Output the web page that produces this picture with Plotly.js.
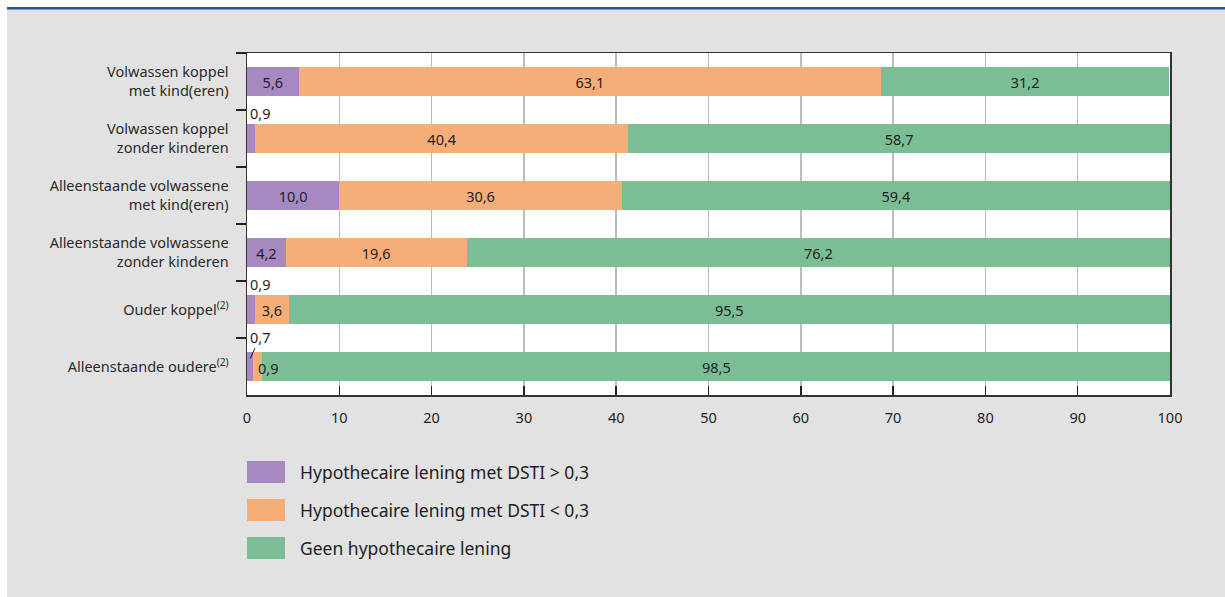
<!DOCTYPE html>
<html>
<head>
<meta charset="utf-8">
<script src="https://cdn.plot.ly/plotly-3.0.1.min.js"></script>
<style>
  html, body { margin: 0; padding: 0; background: #ffffff; }
  #rule { position: absolute; left: 7px; top: 7px; width: 1218px; height: 2px; background: #23569a; }
  #rule2 { position: absolute; left: 7px; top: 9px; width: 1218px; height: 1px; background: #7d9cc6; }
  #chart { position: absolute; left: 7px; top: 10px; width: 1218px; height: 587px; }
</style>
</head>
<body>
<div id="rule"></div>
<div id="rule2"></div>
<div id="chart"></div>
<script>
// Household types (top to bottom)
const categories = [
  "Volwassen koppel<br>met kind(eren)",
  "Volwassen koppel<br>zonder kinderen",
  "Alleenstaande volwassene<br>met kind(eren)",
  "Alleenstaande volwassene<br>zonder kinderen",
  "Ouder koppel<sup>(2)</sup>",
  "Alleenstaande oudere<sup>(2)</sup>"
];

// Shares of households (%)
const dstiHigh = [5.6, 0.9, 10.0, 4.2, 0.9, 0.7];
const dstiLow  = [63.1, 40.4, 30.6, 19.6, 3.6, 0.9];
const noLoan   = [31.2, 58.7, 59.4, 76.2, 95.5, 98.5];

const seriesNames = [
  "Hypothecaire lening met DSTI > 0,3",
  "Hypothecaire lening met DSTI < 0,3",
  "Geen hypothecaire lening"
];
const seriesColors = ["#a689c1", "#f6ae79", "#7bbe95"];

const xTicks = [0, 10, 20, 30, 40, 50, 60, 70, 80, 90, 100];

const FONT = "Noto Sans, Open Sans, sans-serif";
const TXT = "#1e1e1e";
const fmt = v => v.toFixed(1).replace(".", ",");
// Segments too narrow for an inside label get an annotation instead
const MIN_INSIDE = 2;

const allSeries = [dstiHigh, dstiLow, noLoan];
const traces = allSeries.map((vals, i) => ({
  type: "bar",
  orientation: "h",
  name: seriesNames[i],
  y: categories,
  x: vals,
  text: vals.map(fmt),
  texttemplate: "%{text}",
  textposition: vals.map(v => v >= MIN_INSIDE ? "inside" : "none"),
  insidetextanchor: "middle",
  constraintext: "none",
  insidetextfont: { family: FONT, size: 14.5, color: TXT },
  marker: { color: seriesColors[i], line: { width: 0 } },
  showlegend: false,
  hoverinfo: "skip"
}));

const labelFont = { family: FONT, size: 14.5, color: TXT };
const annotations = [];
// small values: label above the bar, left-aligned at the axis
dstiHigh.forEach((v, i) => {
  if (v >= MIN_INSIDE) return;
  if (i === categories.length - 1 && dstiLow[i] < MIN_INSIDE) {
    // last row: leader line from label down to the thin segment
    annotations.push({
      x: v / 2, y: categories[i], yshift: 8,
      text: fmt(v), showarrow: true, arrowhead: 0, arrowwidth: 1,
      arrowcolor: TXT, ax: 10, ay: -22, standoff: 0,
      font: labelFont
    });
  } else {
    annotations.push({
      x: 0, y: categories[i], xanchor: "left", yanchor: "middle",
      xshift: 1, yshift: 26,
      text: fmt(v), showarrow: false,
      font: labelFont
    });
  }
});
dstiLow.forEach((v, i) => {
  if (v >= MIN_INSIDE) return;
  annotations.push({
    x: dstiHigh[i] + v / 2, y: categories[i], xanchor: "center", yanchor: "middle",
    xshift: 10, yshift: -1,
    text: fmt(v), showarrow: false,
    font: labelFont
  });
});

// Legend drawn as large swatches below the plot (pixel positions within the figure)
const plotL = 240, plotT = 43, plotW = 923, plotH = 342;
const px = x => (x - plotL) / plotW;
const py = y => (plotT + plotH - y) / plotH;
const shapes = [];
const legendTop = [451, 489, 527];
seriesNames.forEach((name, i) => {
  const y0 = legendTop[i];
  shapes.push({
    type: "rect", xref: "paper", yref: "paper",
    x0: px(240), x1: px(278), y0: py(y0), y1: py(y0 + 22),
    fillcolor: seriesColors[i], line: { width: 0 }
  });
  annotations.push({
    xref: "paper", yref: "paper", x: px(291), y: py(y0 + 11),
    xanchor: "left", yanchor: "middle", showarrow: false,
    text: name, font: { family: FONT, size: 17.5, color: TXT }
  });
});

const layout = {
  width: 1218, height: 587,
  margin: { l: plotL, r: 1218 - plotL - plotW, t: plotT, b: 587 - plotT - plotH, pad: 0 },
  paper_bgcolor: "#e2e2e2",
  plot_bgcolor: "#ffffff",
  barmode: "stack",
  bargap: 0.49,
  font: { family: FONT, size: 14.5, color: TXT },
  xaxis: {
    range: [0, 100], tickvals: xTicks, ticktext: xTicks.map(String),
    ticks: "inside", ticklen: 9, tickwidth: 1.5, tickcolor: "#222",
    showgrid: true, gridcolor: "#bcbcbc", gridwidth: 1.5,
    zeroline: false, showline: true, linecolor: "#333", linewidth: 1.5, mirror: true,
    ticklabelstandoff: 9,
    tickfont: { family: FONT, size: 14.5, color: TXT },
    fixedrange: true
  },
  yaxis: {
    type: "category",
    range: [categories.length - 0.5, -0.5],
    autorange: false,
    ticks: "outside", tickson: "boundaries", ticklen: 10, tickwidth: 1.5, tickcolor: "#222",
    showgrid: false, zeroline: false,
    showline: true, linecolor: "#333", linewidth: 1.5, mirror: true,
    ticklabelstandoff: 14,
    tickfont: { family: FONT, size: 14.5, color: "#2a2a2a" },
    fixedrange: true
  },
  annotations: annotations,
  shapes: shapes
};

Plotly.newPlot("chart", traces, layout, { displayModeBar: false, staticPlot: true });
</script>
</body>
</html>
